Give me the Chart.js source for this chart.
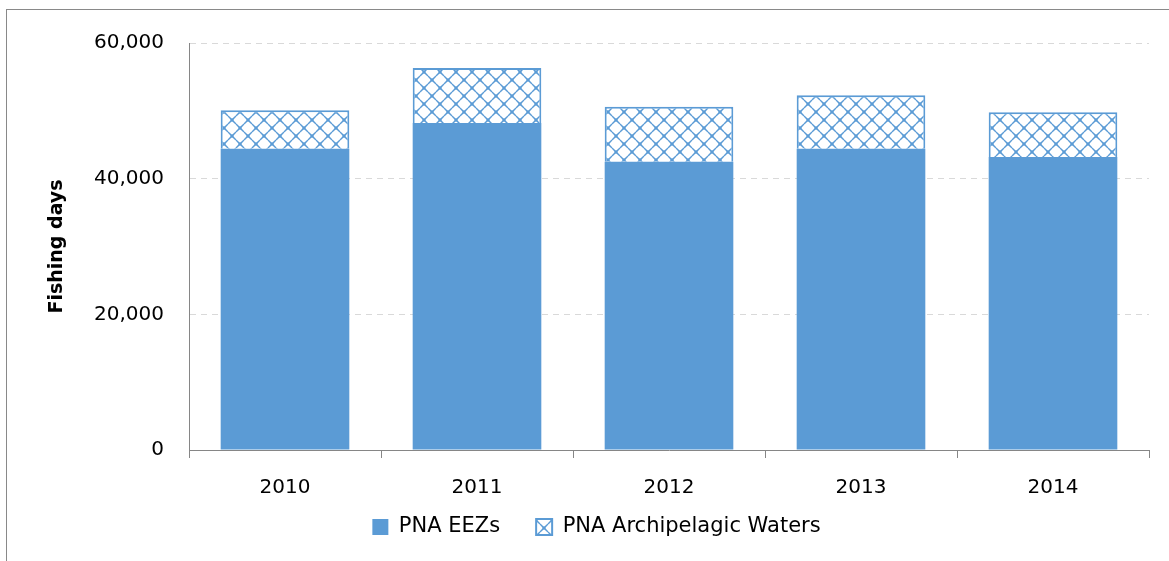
<!DOCTYPE html>
<html>
<head>
<meta charset="utf-8">
<script src="https://cdn.jsdelivr.net/npm/chart.js@4"></script>
<style>
  html, body { margin: 0; padding: 0; background: #fff; }
  #wrap { position: relative; width: 1169px; height: 561px; }
  #frame { position: absolute; left: 6px; top: 9px; right: 0; bottom: 0; border-top: 1px solid #898989; border-left: 1px solid #898989; pointer-events: none; }
  canvas { position: absolute; left: 0; top: 0; }
</style>
</head>
<body>
<div id="wrap">
  <canvas id="c" width="1169" height="561"></canvas>
  <div id="frame"></div>
</div>
<script>
const categories = ['2010', '2011', '2012', '2013', '2014'];
const eezDays = [44400, 48200, 42500, 44400, 43200];
const archipelagicDays = [5700, 8100, 8100, 7900, 6600];
const yTicks = [0, 20000, 40000, 60000];

const BLUE = '#5B9BD5';

function makePattern() {
  const t = document.createElement('canvas');
  t.width = 16; t.height = 16;
  const g = t.getContext('2d');
  g.fillStyle = '#ffffff';
  g.fillRect(0, 0, 16, 16);
  g.strokeStyle = BLUE;
  g.lineWidth = 1.5;
  g.beginPath();
  g.moveTo(0, 0); g.lineTo(16, 16);
  g.moveTo(16, 0); g.lineTo(0, 16);
  g.stroke();
  g.fillStyle = '#ffffff';
  [[8,0],[0,8],[16,8],[8,16]].forEach(p => { g.beginPath(); g.arc(p[0], p[1], 4.8, 0, Math.PI * 2); g.fill(); });
  g.fillStyle = BLUE;
  [[0,0],[16,0],[0,16],[16,16],[8,8]].forEach(p => { g.fillRect(p[0] - 1.5, p[1] - 1.5, 3, 3); });
  return g.createPattern(t, 'repeat');
}

const pattern = makePattern();
const FONT = "'DejaVu Sans', 'Open Sans', sans-serif";
const LEG_PAD = 36;
const LEG_FONT = 21;

new Chart(document.getElementById('c'), {
  type: 'bar',
  data: {
    labels: categories,
    datasets: [
      { label: 'PNA EEZs', data: eezDays, backgroundColor: BLUE, borderWidth: 0, categoryPercentage: 0.67, barPercentage: 1 },
      { label: 'PNA Archipelagic Waters', data: archipelagicDays, backgroundColor: pattern, borderColor: BLUE, borderWidth: 2, categoryPercentage: 0.67, barPercentage: 1 }
    ]
  },
  options: {
    responsive: false,
    animation: false,
    layout: { padding: { top: 43, right: 20, left: 0, bottom: 30 - LEG_PAD } },
    plugins: {
      tooltip: { enabled: false },
      legend: {
        position: 'bottom',
        labels: { color: '#000', font: { family: FONT, size: LEG_FONT }, boxWidth: 16, boxHeight: 16, padding: LEG_PAD }
      }
    },
    scales: {
      x: {
        stacked: true,
        afterFit: (ax) => { ax.height = 50; },
        grid: { display: true, drawOnChartArea: false, drawTicks: true, tickLength: 8, color: '#868686', offset: true },
        border: { color: '#868686', width: 1 },
        ticks: { color: '#000', font: { family: FONT, size: 20 }, padding: 18 }
      },
      y: {
        stacked: true,
        min: 0, max: 60000,
        afterBuildTicks: (ax) => { ax.ticks = yTicks.map(v => ({ value: v })); },
        afterFit: (ax) => { ax.width = 189; },
        grid: { color: '#D9D9D9', drawTicks: false },
        border: { color: '#868686', width: 1, dash: [6, 5] },
        ticks: { color: '#000', font: { family: FONT, size: 20 }, padding: 25, callback: (v) => v.toLocaleString('en-US') },
        title: { display: true, text: 'Fishing days', color: '#000', font: { family: FONT, size: 19, weight: 'bold' }, padding: { top: 46, bottom: 0 } }
      }
    }
  },
  plugins: [{
    id: 'placeLegend',
    afterLayout(chart) {
      const lg = chart.legend;
      if (!lg) return;
      const h = lg.height;
      lg.top = 527 - LEG_PAD - LEG_FONT / 2;
      lg.bottom = lg.top + h;
      lg.left += 22;
      lg.right += 22;
    }
  }]
});
</script>
</body>
</html>
